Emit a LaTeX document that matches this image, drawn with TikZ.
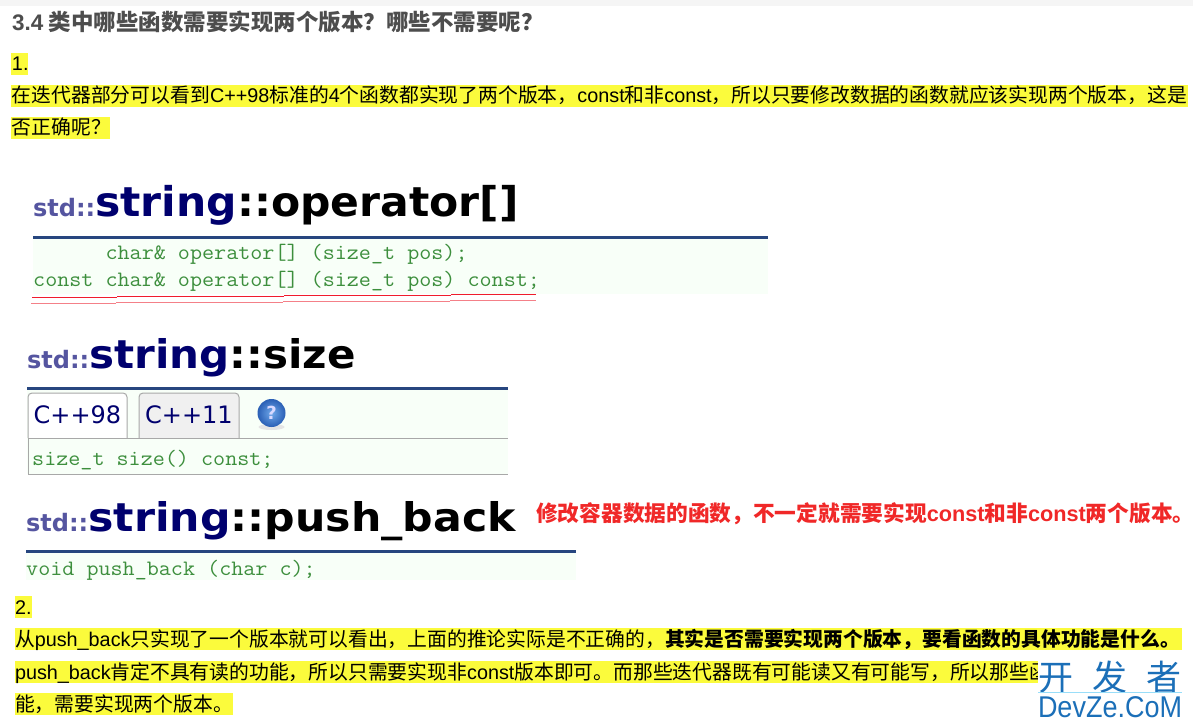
\documentclass[tikz,border=0pt]{standalone}
\usepackage{fontspec}
\setmainfont{Noto Sans CJK SC}
\newfontfamily\latf{Liberation Sans}
\newfontfamily\titlef{DejaVu Sans}[BoldFont={DejaVu Sans Bold}]
\newcommand{\bodysz}{\fontsize{19.8}{24}\selectfont}
\newcommand{\La}[1]{{\latf #1}}
\newcommand{\coderun}[1]{\scalebox{1.065}[1]{\ttfamily\fontsize{22}{24}\selectfont #1}}
\newcommand{\apititle}[3]{{\titlef\bfseries{\fontsize{24}{24}\selectfont\color{stdblue}std::}\scalebox{#1}[1]{\fontsize{#2}{#2}\selectfont{\color{navy}string}{\color{black}::#3}}}}
\definecolor{hl}{HTML}{FBFB3C}
\definecolor{stdblue}{HTML}{5555A0}
\definecolor{navy}{HTML}{00006E}
\definecolor{rulebl}{HTML}{27467F}
\definecolor{codebg}{HTML}{F8FFF8}
\definecolor{codegr}{HTML}{3D8F3D}
\definecolor{headgr}{HTML}{4D4D4D}
\definecolor{redtx}{HTML}{F02828}
\definecolor{wmblue}{HTML}{1B6FB8}
\definecolor{tabgr}{HTML}{A8A8A8}
\definecolor{ballin}{HTML}{6FA8EA}
\definecolor{ballout}{HTML}{2A5FB5}
\definecolor{ulred}{HTML}{F01C2C}
\definecolor{ulpink}{HTML}{F48088}
\tikzset{
 txt/.style={anchor=base west,inner sep=0pt,outer sep=0pt,font=\bodysz,text=black},
 head/.style={anchor=base west,inner sep=0pt,font=\fontsize{22.5}{24}\selectfont\bfseries,text=headgr},
 apit/.style={anchor=base west,inner sep=0pt},
 code/.style={anchor=base west,inner sep=0pt,text=codegr},
 tabt/.style={anchor=base,inner sep=0pt,text=navy,font=\titlef\fontsize{24}{24}\selectfont},
 redn/.style={anchor=base west,inner sep=0pt,font=\fontsize{21.7}{24}\selectfont\bfseries,text=redtx},
 hlbox/.style={fill=hl,draw=none},
 bgbox/.style={fill=codebg,draw=none},
 bluerule/.style={fill=rulebl,draw=none},
 grayline/.style={draw=tabgr,line width=1pt},
 ul1/.style={draw=ulred,line width=0.9pt},
 ul2/.style={draw=ulpink,line width=1.4pt},
 tabshape/.style={draw=tabgr,line width=1pt,rounded corners=4pt},
}
\begin{document}
\begin{tikzpicture}[x=1pt,y=-1pt]
\useasboundingbox (0,0) rectangle (1193,727);
\fill[black!4] (0,0) rectangle (1193,6);
\node[head] (h) at (12,31) {\La{3.4} 类中哪些函数需要实现两个版本？哪些不需要呢？};
% yellow bands
\fill[hlbox] (11,53) rectangle (28,75);
\fill[hlbox] (11,85) rectangle (1188,107);
\fill[hlbox] (11,117) rectangle (110,139);
\fill[hlbox] (15,596) rectangle (32,618);
\fill[hlbox] (15,628) rectangle (1182,650);
\fill[hlbox] (15,661) rectangle (1040,683);
\fill[hlbox] (15,693) rectangle (233,715);
\node[txt] (a1) at (12,71) {\La{1.}};
\node[txt] (a2) at (12,103) {在迭代器部分可以看到\La{C++98}标准的\La{4}个函数都实现了两个版本，\La{const}和非\La{const}，所以只要修改数据的函数就应该实现两个版本，这是};
\node[txt] (a3) at (12,135) {否正确呢？};
% operator[]
\fill[bgbox] (33,239) rectangle (768,294);
\fill[bluerule] (33,236) rectangle (768,239);
\node[apit] (t1) at (33,217) {\apititle{1.037}{41}{operator[]}};
\node[code] (c1) at (33,259.5) {\coderun{\ \ \ \ \ \ char\& operator[] (size\_t pos);}};
\node[code] (c2) at (33,287) {\coderun{const char\& operator[] (size\_t pos) const;}};
\draw[ul1] (32,297)--(117,297) (117,296)--(284,296) (284,295)--(451,295) (451,294)--(536,294);
\draw[ul2] (31,303.5)--(116,303.5) (116,302.5)--(283,302.5) (283,301.5)--(450,301.5) (450,300.5)--(536,300.5);
% size
\fill[bgbox] (27,390) rectangle (508,474);
\fill[bluerule] (27,387) rectangle (508,390);
\node[apit] (t2) at (27,368) {\apititle{1.064}{39.5}{size}};
\draw[tabshape,fill=white] (28,438)--(28,393)--(127,393)--(127,438);
\draw[tabshape,fill=black!6] (139,438)--(139,393)--(239,393)--(239,438);
\draw[grayline] (28,438)--(508,438) (28,438)--(28,474)--(508,474);
\node[tabt] (tb1) at (77.5,423) {C++98};
\node[tabt] (tb2) at (189,423) {C++11};
\fill[black!10] (271.5,427) ellipse[x radius=13,y radius=3];
\shade[inner color=ballin,outer color=ballout] (271.5,413) circle[radius=14];
\node[inner sep=0pt,text=white!85!blue,font=\titlef\bfseries\fontsize{18}{18}\selectfont] (q) at (271.5,413) {?};
\node[code] (c3) at (32,465) {\coderun{size\_t size() const;}};
% push_back
\fill[bgbox] (26,553) rectangle (576,580);
\fill[bluerule] (26,550) rectangle (576,553);
\node[apit] (t3) at (26,531) {\apititle{1.08}{39.5}{push\_back}};
\node[code] (c4) at (26,575) {\coderun{void push\_back (char c);}};
\node[redn] (r) at (536,521) {修改容器数据的函数，不一定就需要实现\La{\bfseries const}和非\La{\bfseries const}两个版本\rlap{。}};
% section 2
\node[txt] (b1) at (15,614) {\La{2.}};
\node[txt] (b2) at (15,646) {从\La{push\_back}只实现了一个版本就可以看出，上面的推论实际是不正确的，\textbf{其实是否需要实现两个版本，要看函数的具体功能是什么。}};
\node[txt] (b3) at (15,679) {\La{push\_back}肯定不具有读的功能，所以只需要实现非\La{const}版本即可。而那些迭代器既有可能读又有可能写，所以那些函};
\node[txt] (b4) at (15,711) {能，需要实现两个版本。};
% watermark
\fill[white] (1038,658) rectangle (1193,727);
\node[inner sep=0pt,text=wmblue,font=\fontsize{35}{35}\selectfont] (w1) at (1110,677) {开\hspace{19pt}发\hspace{19pt}者};
\fill[cyan!40] (1038,691.5) rectangle (1182,692.5);
\node[inner sep=0pt,text=wmblue,font=\latf\fontsize{30}{30}\selectfont] (w2) at (1110,707) {\scalebox{0.9}[1]{DevZe.CoM}};
\end{tikzpicture}
\end{document}
